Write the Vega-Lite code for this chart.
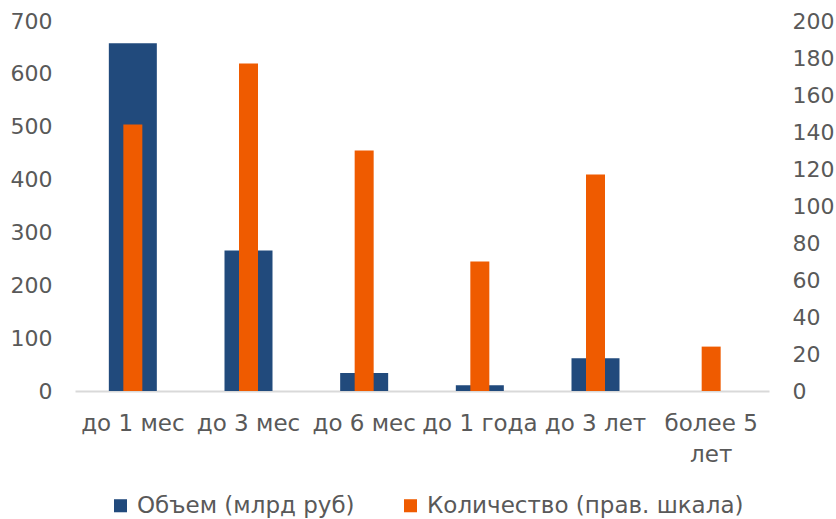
{
  "$schema": "https://vega.github.io/schema/vega-lite/v6.json",
  "width": 694,
  "height": 370,
  "autosize": {"type": "none"},
  "padding": {"left": 75, "top": 21, "right": 67, "bottom": 128},
  "background": "white",
  "config": {
    "view": {"stroke": null},
    "font": "DejaVu Sans",
    "axis": {"labelFont": "DejaVu Sans", "labelColor": "#595959", "labelFontSize": 22, "ticks": false, "grid": false, "titleFont": "DejaVu Sans"},
    "legend": {"labelFont": "DejaVu Sans", "labelColor": "#595959", "labelFontSize": 23, "labelLimit": 0}
  },
  "data": {
    "values": [
      {"category": "до 1 мес", "volume": 658, "count": 144},
      {"category": "до 3 мес", "volume": 266, "count": 177},
      {"category": "до 6 мес", "volume": 34, "count": 130},
      {"category": "до 1 года", "volume": 11, "count": 70},
      {"category": "до 3 лет", "volume": 62, "count": 117},
      {"category": "более 5 лет", "volume": 0, "count": 24}
    ]
  },
  "encoding": {
    "x": {
      "field": "category",
      "type": "nominal",
      "sort": null,
      "scale": {"paddingInner": 0, "paddingOuter": 0},
      "axis": {
        "title": null,
        "labelAngle": 0,
        "domain": true,
        "domainColor": "#d9d9d9",
        "domainWidth": 2,
        "labelPadding": 21,
        "labelLineHeight": 31,
        "labelFontSize": 23,
        "labelLimit": 0,
        "labelExpr": "datum.label == 'более 5 лет' ? ['более 5', 'лет'] : datum.label"
      }
    }
  },
  "layer": [
    {
      "mark": {"type": "bar", "width": 48},
      "encoding": {
        "y": {
          "field": "volume",
          "type": "quantitative",
          "scale": {"domain": [0, 700], "nice": false},
          "axis": {"title": null, "orient": "left", "values": [0, 100, 200, 300, 400, 500, 600, 700], "domain": false, "labelPadding": 23}
        },
        "color": {
          "datum": "Объем (млрд руб)",
          "type": "nominal",
          "scale": {"domain": ["Объем (млрд руб)", "Количество (прав. шкала)"], "range": ["#214a7c", "#ef5b00"]},
          "legend": {
            "title": null,
            "orient": "none",
            "direction": "horizontal",
            "legendX": 34,
            "legendY": 473,
            "symbolType": "square",
            "symbolSize": 170,
            "symbolStrokeWidth": 0,
            "columnPadding": 44,
            "labelOffset": 5,
            "padding": 0
          }
        }
      }
    },
    {
      "mark": {"type": "bar", "width": 19},
      "encoding": {
        "y": {
          "field": "count",
          "type": "quantitative",
          "scale": {"domain": [0, 200], "nice": false},
          "axis": {"title": null, "orient": "right", "values": [0, 20, 40, 60, 80, 100, 120, 140, 160, 180, 200], "domain": false, "labelPadding": 23}
        },
        "color": {"datum": "Количество (прав. шкала)", "type": "nominal"}
      }
    }
  ],
  "resolve": {"scale": {"y": "independent"}}
}
